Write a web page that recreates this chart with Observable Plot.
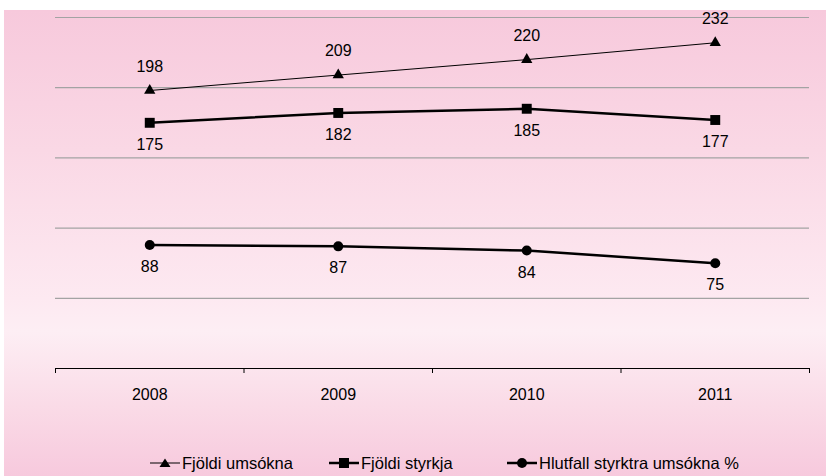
<!DOCTYPE html>
<html>
<head>
<meta charset="utf-8">
<script src="https://cdn.jsdelivr.net/npm/d3@7"></script>
<script src="https://cdn.jsdelivr.net/npm/@observablehq/plot@0.6"></script>
<style>
  body { margin: 0; background: #ffffff; font-family: "Liberation Sans", Arial, sans-serif; }
  #wrap { position: relative; width: 826px; height: 476px; overflow: hidden; }
  #bg { position: absolute; left: 4px; top: 10px; right: 0; bottom: 0;
        background: linear-gradient(#f7c9dc 0%, #fad8e5 30%, #fde9f1 62%, #fdeef4 69%, #fadbe7 85%, #f7c9dd 100%); }
  #chart { position: absolute; left: 0; top: 0; }
  .leg { position: absolute; top: 452px; height: 22px; display: flex; align-items: center;
         font-size: 16.5px; color: #000; white-space: nowrap; }
  .leg svg { display: block; margin-right: 2px; }
</style>
</head>
<body>
<div id="wrap">
  <div id="bg"></div>
  <div id="chart"></div>
  <div id="legend"></div>
</div>
<script>
// ---- data ----
const years = [2008, 2009, 2010, 2011];
const seriesNames = ["Fjöldi umsókna", "Fjöldi styrkja", "Hlutfall styrktra umsókna %"];
const umsokna = [198, 209, 220, 232];
const styrkja = [175, 182, 185, 177];
const hlutfall = [88, 87, 84, 75];
const gridTicks = [50, 100, 150, 200, 250];

const seriesValues = [umsokna, styrkja, hlutfall];
const rows = [];
seriesNames.forEach((s, i) => years.forEach((y, j) => rows.push({series: s, year: y, value: seriesValues[i][j]})));
const bySeries = s => rows.filter(d => d.series === s);
const boundaries = years.map(y => y - 0.5).concat([years[years.length - 1] + 0.5]);

const chart = Plot.plot({
  width: 826,
  height: 410,
  marginLeft: 55,
  marginRight: 17,
  marginTop: 17,
  marginBottom: 42,
  style: { background: "transparent", fontFamily: "Liberation Sans, Arial, sans-serif" },
  x: { type: "linear", domain: [years[0] - 0.5, years[years.length - 1] + 0.5], axis: null },
  y: { domain: [0, 250], axis: null },
  marks: [
    Plot.gridY(gridTicks, { stroke: "#a3a3a3", strokeOpacity: 1, strokeWidth: 1.2 }),
    Plot.ruleY([0], { stroke: "#000", strokeWidth: 1 }),
    Plot.axisX(boundaries, { tickSize: 5, tickFormat: () => "", label: null, stroke: "#000", strokeWidth: 1 }),
    Plot.axisX(years, { tickSize: 0, tickPadding: 20, tickFormat: d => String(d), label: null, fontSize: 16, fill: "#000" }),
    Plot.line(bySeries(seriesNames[0]), { x: "year", y: "value", stroke: "#000", strokeWidth: 1 }),
    Plot.line(bySeries(seriesNames[1]), { x: "year", y: "value", stroke: "#000", strokeWidth: 2.5 }),
    Plot.line(bySeries(seriesNames[2]), { x: "year", y: "value", stroke: "#000", strokeWidth: 2.5 }),
    Plot.dot(bySeries(seriesNames[0]), { x: "year", y: "value", symbol: "triangle", r: 4.2, fill: "#000", stroke: "none" }),
    Plot.dot(bySeries(seriesNames[1]), { x: "year", y: "value", symbol: "square", r: 5.6, fill: "#000", stroke: "none" }),
    Plot.dot(bySeries(seriesNames[2]), { x: "year", y: "value", symbol: "circle", r: 5, fill: "#000", stroke: "none" }),
    Plot.text(bySeries(seriesNames[0]), { x: "year", y: "value", text: d => String(d.value), dy: -24, fontSize: 16, fill: "#000" }),
    Plot.text(bySeries(seriesNames[1]), { x: "year", y: "value", text: d => String(d.value), dy: 22, fontSize: 16, fill: "#000" }),
    Plot.text(bySeries(seriesNames[2]), { x: "year", y: "value", text: d => String(d.value), dy: 22, fontSize: 16, fill: "#000" })
  ]
});
document.getElementById("chart").appendChild(chart);

// ---- legend ----
const legendLeft = [150, 329, 507];
const symbols = [
  '<polygon points="15,2.5 20.5,11 9.5,11" fill="#000"/>',
  '<rect x="10" y="2" width="10" height="10" fill="#000"/>',
  '<circle cx="15" cy="7" r="5" fill="#000"/>'
];
const widths = [1, 2.5, 2.5];
const leg = document.getElementById("legend");
seriesNames.forEach((s, i) => {
  const div = document.createElement("div");
  div.className = "leg";
  div.style.left = legendLeft[i] + "px";
  div.innerHTML = `<svg width="30" height="14"><line x1="0" x2="30" y1="7" y2="7" stroke="#000" stroke-width="${widths[i]}"/>${symbols[i]}</svg><span>${s}</span>`;
  leg.appendChild(div);
});
</script>
</body>
</html>
